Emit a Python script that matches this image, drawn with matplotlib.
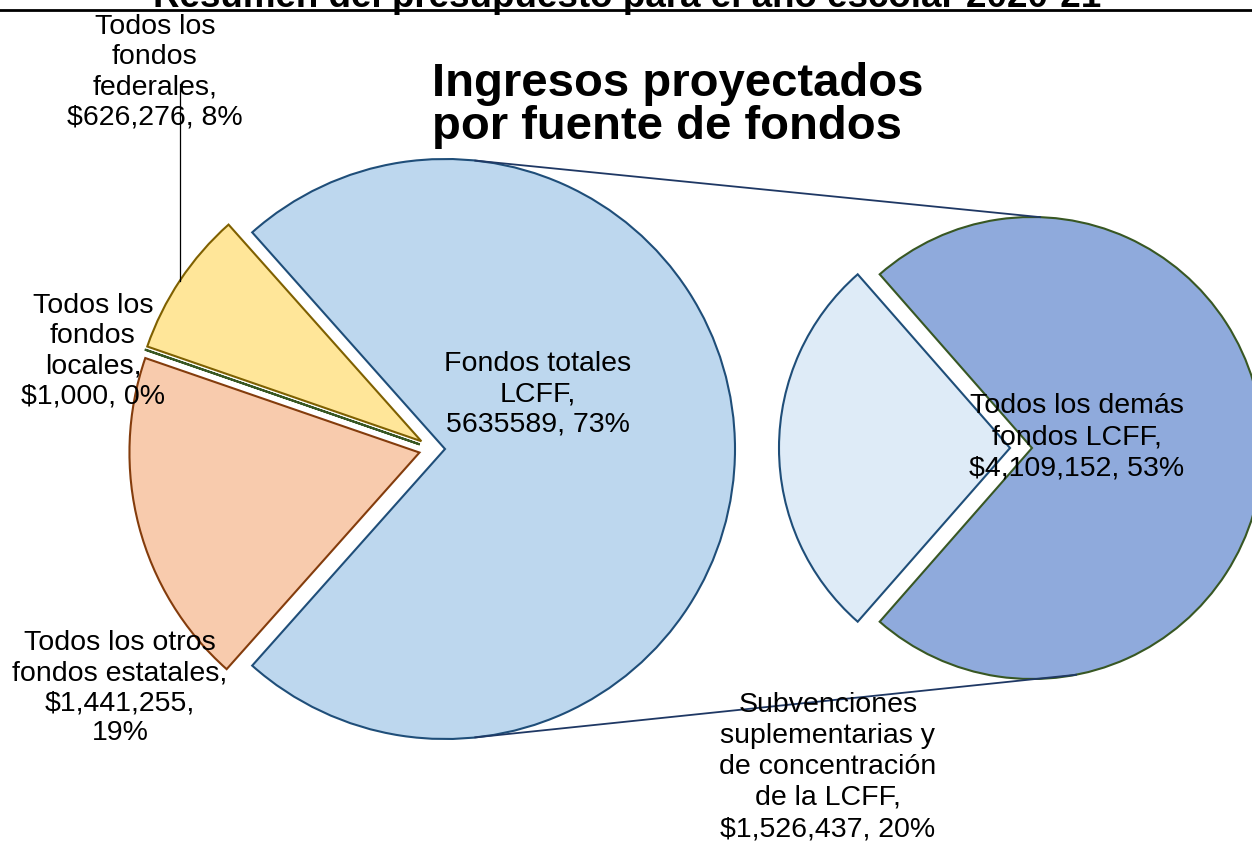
import numpy as np
import matplotlib
matplotlib.use("Agg")
import matplotlib.pyplot as plt

plt.rcParams['font.family'] = ['Liberation Sans', 'DejaVu Sans']

# datos: pastel principal (fuentes de fondos)
left_names = ["Fondos totales\nLCFF", "Todos los\nfondos\nfederales",
              "Todos los\nfondos\nlocales", "Todos los otros\nfondos estatales"]
left_vals = [5635589, 626276, 1000, 1441255]
left_seps = [", ", ", ", ", ", ",\n"]

# datos: desglose de LCFF (segundo pastel)
right_names = ["Todos los demás\nfondos LCFF",
               "Subvenciones\nsuplementarias y\nde concentración\nde la LCFF"]
right_vals = [4109152, 1526437]

W, H = 1252, 849
total = sum(left_vals)

def make_label(name, v, sep, raw=False):
    money = f"{v}" if raw else f"${v:,}"
    return f"{name},\n{money}{sep}{round(v / total * 100):.0f}%"

fig = plt.figure(figsize=(W / 100, H / 100), dpi=100)
ax = fig.add_axes([0, 0, 1, 1])

# pastel izquierdo
lw = 1.5
left_fill = ['#BDD7EE', '#FFE699', '#A9D18E', '#F8CBAD']
left_edge = ['#1F4E79', '#7F6000', '#385723', '#843C0C']
start_l = -left_vals[0] / total * 360 / 2
wl, _ = ax.pie(left_vals, startangle=start_l, center=(433, H - 449), radius=290,
               explode=[12, 14, 14, 14], colors=left_fill,
               wedgeprops=dict(linewidth=lw), frame=True)
for w, ec in zip(wl, left_edge):
    w.set_edgecolor(ec)

# pastel derecho
right_fill = ['#8FAADC', '#DEEBF7']
right_edge = ['#385723', '#1F4E79']
start_r = -right_vals[0] / sum(right_vals) * 360 / 2
wr, _ = ax.pie(right_vals, startangle=start_r, center=(1021, H - 448), radius=231,
               explode=[11, 11], colors=right_fill,
               wedgeprops=dict(linewidth=lw), frame=True)
for w, ec in zip(wr, right_edge):
    w.set_edgecolor(ec)

# lineas de conexion
def on_circle(w, ang):
    cx, cy = w.center
    a = np.radians(ang)
    return cx + w.r * np.cos(a), cy + w.r * np.sin(a)

for a1, a2 in [(84, 88), (-84, -79)]:
    p1 = on_circle(wl[0], a1)
    p2 = on_circle(wr[0], a2)
    ax.plot([p1[0], p2[0]], [p1[1], p2[1]], color='#1F3864', lw=1.3, zorder=1)

# etiquetas
fs = 20.5
ls = 1.2
lab_pos_left = [(538, 394), (155, 72), (93, 351), (120, 688)]
for i, (name, v, sep) in enumerate(zip(left_names, left_vals, left_seps)):
    x, y = lab_pos_left[i]
    ax.text(x, H - y, make_label(name, v, sep, raw=(i == 0)), ha='center', va='center',
            fontsize=fs, linespacing=ls, zorder=5)

lab_pos_right = [(1077, 437), (828, 767)]
for (name, v), (x, y) in zip(zip(right_names, right_vals), lab_pos_right):
    ax.text(x, H - y, make_label(name, v, ", "), ha='center', va='center',
            fontsize=fs, linespacing=1.25, zorder=5)

# linea guia de fondos federales
ax.plot([180, 180], [H - 84, H - 281], color='black', lw=0.9, zorder=4)

# titulos
ax.text(432, H - 62, "Ingresos proyectados\npor fuente de fondos", ha='left', va='top',
        fontsize=34, fontweight='bold', linespacing=0.98, zorder=5)
ax.text(627, H - 7, "Resumen del presupuesto para el año escolar 2020-21",
        ha='center', va='baseline', fontsize=26.5, fontweight='bold')
ax.axhline(H - 9.5, color='black', lw=2)

ax.set_xlim(0, W)
ax.set_ylim(0, H)
ax.set_aspect('equal')
ax.axis('off')

fig.savefig("out.png", dpi=100)
